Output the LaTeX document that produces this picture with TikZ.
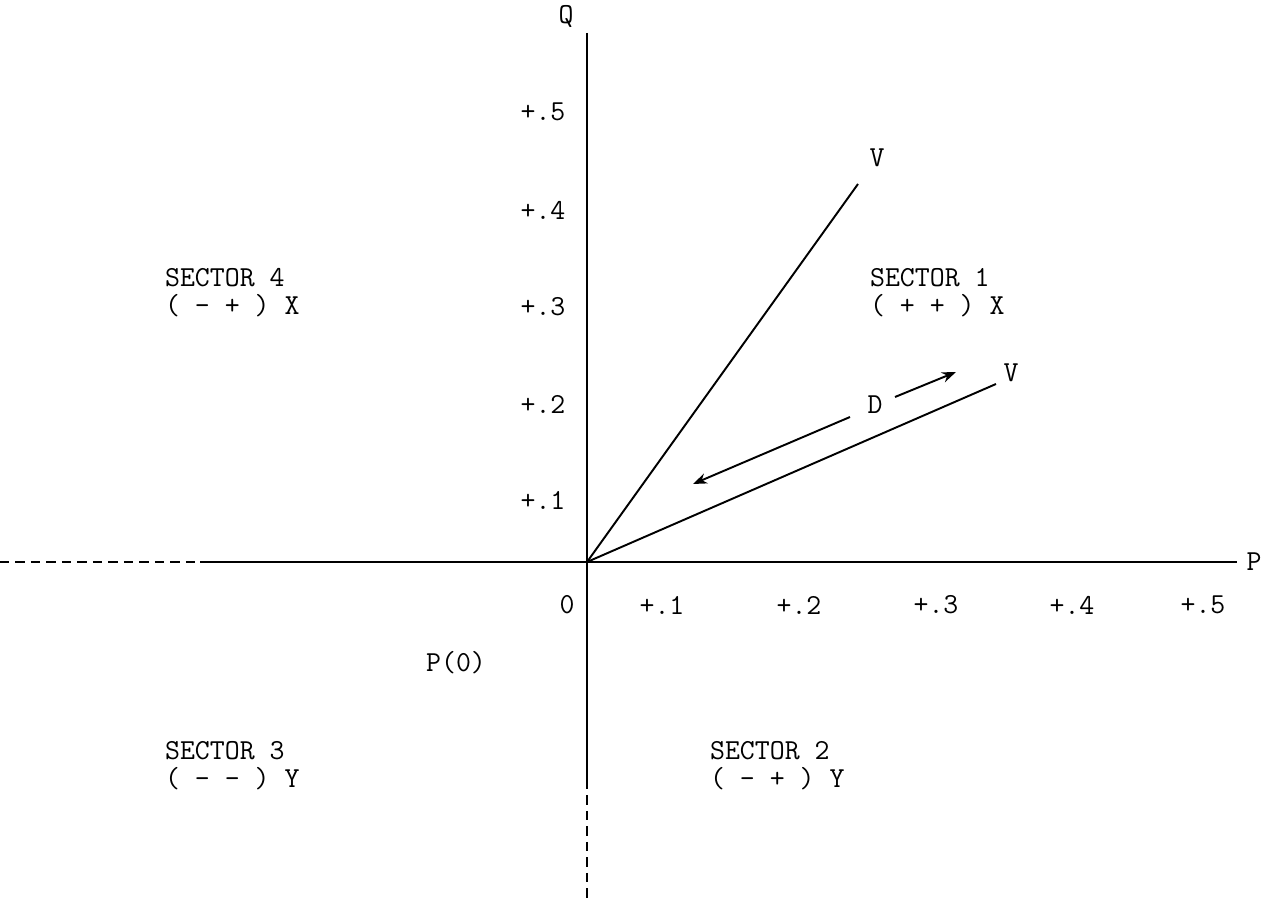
\documentclass[tikz,border=0pt]{standalone}
\usepackage{tikz}
\usetikzlibrary{arrows.meta,calc,positioning}

\begin{document}
\begin{tikzpicture}[x=0.02cm, y=-0.02cm,
  lbl/.style={font=\ttfamily\fontsize{16.5}{16}\selectfont, inner sep=1pt},
  sect/.style={lbl, align=left, anchor=north west},
  axis/.style={line width=1.5pt},
  axdash/.style={line width=1.5pt, dash pattern=on 0.19cm off 0.12cm},
  vline/.style={line width=1.1pt},
  darr/.style={line width=1.1pt, -{Stealth[length=8pt,width=6pt]}}]
\useasboundingbox (0,0) rectangle (1269,901);

% Achsen
\coordinate (O) at (587,562);
\coordinate (pend) at (1237,562);
\coordinate (pdash) at (200,562);
\coordinate (pleft) at (0,562);
\coordinate (qtop) at (587,33);
\coordinate (qdash) at (587,780);
\coordinate (qbot) at (587,901);
\draw[axis] (pdash) -- (pend);
\draw[axdash] (pleft) -- (pdash);
\draw[axis] (qtop) -- (qdash);
\draw[axdash] (qdash) -- (qbot);
\node[lbl] (Plab) at (1254,562) {P};
\node[lbl] (Qlab) at (566,16) {Q};

% Skala
\node[lbl] (y5) at (543,112) {+.5};
\node[lbl] (y4) at (543,210) {+.4};
\node[lbl] (y3) at (543,307) {+.3};
\node[lbl] (y2) at (543,404) {+.2};
\node[lbl] (y1) at (543,500) {+.1};
\node[lbl] (x0) at (567,605) {0};
\node[lbl] (x1) at (662,605) {+.1};
\node[lbl] (x2) at (799,605) {+.2};
\node[lbl] (x3) at (936,605) {+.3};
\node[lbl] (x4) at (1072,605) {+.4};
\node[lbl] (x5) at (1203,605) {+.5};
\node[lbl] (p0) at (456,663) {P(0)};

% Vektoren
\coordinate (v1) at (858,184);
\coordinate (v2) at (996,384);
\draw[vline] (O) -- (v1);
\draw[vline] (O) -- (v2);
\node[lbl] (V1) at (877,158) {V};
\node[lbl] (V2) at (1011,373) {V};
\node[lbl] (D) at (875,405) {D};
\coordinate (dl) at (850,417);
\coordinate (dr) at (895,397);
\draw[darr] (dl) -- (693,484);
\draw[darr] (dr) -- (956,372);

% Sektoren
\node[sect] (s4) at (163,266) {SECTOR 4\\( - + ) X};
\node[sect] (s1) at (868,266) {SECTOR 1\\( + + ) X};
\node[sect] (s3) at (163,739) {SECTOR 3\\( - - ) Y};
\node[sect] (s2) at (708,739) {SECTOR 2\\( - + ) Y};

\end{tikzpicture}
\end{document}
